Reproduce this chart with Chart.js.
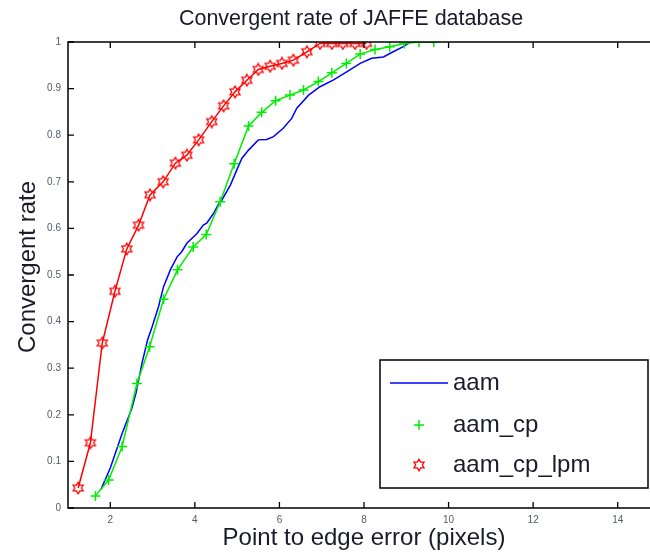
<!DOCTYPE html>
<html><head><meta charset="utf-8">
<script src="https://cdn.jsdelivr.net/npm/chart.js@4.4.1/dist/chart.umd.min.js"></script>
<style>
html,body{margin:0;padding:0;overflow:hidden;background:#fff;width:650px;height:554px}
#wrap{position:relative;width:680px;height:554px}
canvas{display:block}
</style></head><body><div id="wrap"><canvas id="c" width="680" height="554"></canvas></div>
<script>
const titleText = 'Convergent rate of JAFFE database';
const xLabel = 'Point to edge error (pixels)';
const yLabel = 'Convergent rate';
const seriesNames = ['aam', 'aam_cp', 'aam_cp_lpm'];

const aamX = [1.78,2.0,2.28,2.51,2.61,2.75,2.88,2.99,3.14,3.26,3.42,3.58,3.69,3.81,3.97,4.05,4.20,4.28,4.44,4.56,4.64,4.84,4.99,5.11,5.27,5.50,5.70,5.86,6.09,6.29,6.41,6.69,6.96,7.27,7.59,7.91,8.18,8.46,8.69,8.93,9.05,9.1];
const aamY = [0.04,0.086,0.16,0.214,0.247,0.311,0.36,0.389,0.432,0.475,0.511,0.539,0.55,0.568,0.582,0.589,0.607,0.611,0.632,0.652,0.661,0.693,0.725,0.75,0.768,0.79,0.791,0.797,0.815,0.836,0.858,0.886,0.904,0.918,0.936,0.954,0.965,0.968,0.979,0.99,0.997,1.0];

const cpX = [1.65,1.96,2.28,2.63,2.93,3.26,3.59,3.96,4.27,4.60,4.93,5.27,5.58,5.91,6.25,6.57,6.92,7.24,7.58,7.91,8.26,8.61,8.95,9.30,9.65];
const cpY = [0.026,0.06,0.132,0.267,0.346,0.448,0.511,0.560,0.587,0.657,0.739,0.820,0.849,0.874,0.886,0.897,0.915,0.934,0.954,0.974,0.984,0.99,0.997,1,1];

const lpmX = [1.24,1.53,1.81,2.11,2.39,2.67,2.94,3.25,3.54,3.81,4.09,4.40,4.68,4.95,5.23,5.50,5.78,6.06,6.33,6.65,6.96,7.24,7.50,7.79,8.06];
const lpmY = [0.043,0.14,0.354,0.465,0.556,0.607,0.672,0.70,0.740,0.757,0.79,0.829,0.863,0.893,0.918,0.941,0.948,0.954,0.961,0.979,0.997,0.997,0.997,0.997,0.997];

const xTicks = [2,4,6,8,10,12,14];
const yTicks = [0,0.1,0.2,0.3,0.4,0.5,0.6,0.7,0.8,0.9,1];
const yTickLabels = ['0','0.1','0.2','0.3','0.4','0.5','0.6','0.7','0.8','0.9','1'];

const BLUE = '#0000ff', GREEN = '#00ee00', RED = '#ff0000';
const FONT = '"Liberation Sans", Arial, sans-serif';

function hexPath(ctx, cx, cy, R) {
  const r = R / Math.sqrt(3);
  ctx.beginPath();
  for (let i = 0; i < 12; i++) {
    const a = -Math.PI / 2 + i * Math.PI / 6;
    const rr = (i % 2 === 0) ? R : r;
    const px = cx + rr * Math.cos(a), py = cy + rr * Math.sin(a);
    if (i === 0) ctx.moveTo(px, py); else ctx.lineTo(px, py);
  }
  ctx.closePath();
}
const hexImg = document.createElement('canvas');
hexImg.width = 14; hexImg.height = 14;
(function(){ const g = hexImg.getContext('2d'); g.strokeStyle = RED; g.lineWidth = 1.3; hexPath(g, 7, 7, 5.8); g.stroke(); })();

function pts(xs, ys) { return xs.map((x, i) => ({x: x, y: ys[i]})); }

const deco = {
  id: 'deco',
  afterDraw(chart) {
    const ctx = chart.ctx, a = chart.chartArea;
    const xs = chart.scales.x, ys = chart.scales.y;
    ctx.save();
    ctx.strokeStyle = '#000'; ctx.lineWidth = 1.5;
    ctx.strokeRect(a.left, a.top, a.right - a.left, a.bottom - a.top);
    ctx.lineWidth = 1.3;
    ctx.beginPath();
    xTicks.forEach(v => {
      const p = xs.getPixelForValue(v);
      ctx.moveTo(p, a.bottom); ctx.lineTo(p, a.bottom - 6);
      ctx.moveTo(p, a.top); ctx.lineTo(p, a.top + 6);
    });
    yTicks.forEach(v => {
      const p = ys.getPixelForValue(v);
      ctx.moveTo(a.left, p); ctx.lineTo(a.left + 6, p);
      ctx.moveTo(a.right, p); ctx.lineTo(a.right - 6, p);
    });
    ctx.stroke();
    const cx = (a.left + a.right) / 2, cy = (a.top + a.bottom) / 2;
    ctx.fillStyle = '#1a1a2a';
    ctx.textAlign = 'center'; ctx.textBaseline = 'middle';
    ctx.font = '21.5px ' + FONT;
    ctx.fillText(titleText, 351, 19);
    ctx.font = '24px ' + FONT;
    ctx.fillText(xLabel, cx, 538);
    ctx.save();
    ctx.translate(28, cy - 8); ctx.rotate(-Math.PI / 2);
    ctx.fillText(yLabel, 0, 0);
    ctx.restore();
    // legend
    const L = 380, T = 360, R = 648, B = 488;
    ctx.fillStyle = '#fff';
    ctx.fillRect(L, T, R - L, B - T);
    ctx.strokeStyle = '#000'; ctx.lineWidth = 1.5;
    ctx.strokeRect(L, T, R - L, B - T);
    ctx.strokeStyle = BLUE; ctx.lineWidth = 1.5;
    ctx.beginPath(); ctx.moveTo(390, 383); ctx.lineTo(448, 383); ctx.stroke();
    ctx.strokeStyle = GREEN;
    ctx.beginPath(); ctx.moveTo(414, 425); ctx.lineTo(424, 425); ctx.moveTo(419, 420); ctx.lineTo(419, 430); ctx.stroke();
    ctx.drawImage(hexImg, 412, 458);
    ctx.fillStyle = '#1a1a2a';
    ctx.font = '24px ' + FONT;
    ctx.textAlign = 'left';
    ctx.fillText(seriesNames[0], 453, 383);
    ctx.fillText(seriesNames[1], 453, 425);
    ctx.fillText(seriesNames[2], 453, 465);
    ctx.restore();
  }
};

new Chart(document.getElementById('c'), {
  type: 'line',
  data: {
    datasets: [
      { label: seriesNames[2], data: pts(lpmX, lpmY), borderColor: RED, borderWidth: 1.5, pointStyle: hexImg, pointRadius: 6, tension: 0, order: 1 },
      { label: seriesNames[1], data: pts(cpX, cpY), borderColor: GREEN, borderWidth: 1.5, pointStyle: 'cross', pointRadius: 5, pointBorderColor: GREEN, pointBorderWidth: 1.5, tension: 0, order: 2 },
      { label: seriesNames[0], data: pts(aamX, aamY), borderColor: BLUE, borderWidth: 1.5, pointRadius: 0, tension: 0, order: 3 }
    ]
  },
  options: {
    responsive: false, animation: false,
    layout: { padding: { top: 42, right: 20, left: 0, bottom: 0 } },
    plugins: { legend: { display: false }, tooltip: { enabled: false }, title: { display: false } },
    scales: {
      x: {
        type: 'linear', min: 1, max: 15,
        afterBuildTicks: s => { s.ticks = xTicks.map(v => ({value: v})); },
        afterFit: s => { s.height = 46; },
        grid: { display: false, drawTicks: false },
        border: { display: false },
        ticks: { padding: 6, color: '#555a66', font: { size: 10, family: FONT }, maxRotation: 0 }
      },
      y: {
        type: 'linear', min: 0, max: 1,
        afterBuildTicks: s => { s.ticks = yTicks.map(v => ({value: v})); },
        afterFit: s => { s.width = 68; },
        grid: { display: false, drawTicks: false },
        border: { display: false },
        ticks: { padding: 7, color: '#555a66', font: { size: 10, family: FONT }, callback: (v, i) => yTickLabels[i] }
      }
    }
  },
  plugins: [deco]
});
</script></body></html>
